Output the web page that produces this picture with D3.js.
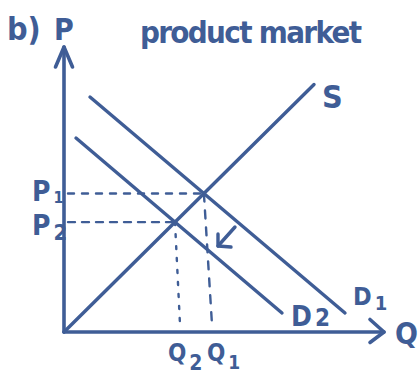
<!DOCTYPE html>
<html>
<head>
<meta charset="utf-8">
<script src="https://cdn.jsdelivr.net/npm/d3@7"></script>
<style>
  html, body { margin: 0; padding: 0; background: #fff; }
  svg { display: block; }
  text { font-family: "DejaVu Sans Condensed", "DejaVu Sans", sans-serif; font-weight: bold; fill: #3f5d96; }
</style>
</head>
<body>
<svg id="chart" width="419" height="377"></svg>
<script>
'use strict';

/**
 * Chart data (quantity / price units)
 */
const supplyCurve = [[0, 0], [10, 9.9]];
const demandCurve1 = [[1.04, 9.4], [11.24, 0.76]];
const demandCurve2 = [[0.48, 7.76], [8.72, 0.76]];
// hand drawn guides hit the Q axis a bit right of the equilibrium
const guideFeet = [5.92, 4.64];
const subscripts = ['1', '2'];
const curveLabels = ['S', 'D', 'D'];

const INK = '#3f5d96';
const svg = d3.select('#chart');

const x = d3.scaleLinear().domain([0, 12.8]).range([64, 384]);
const y = d3.scaleLinear().domain([0, 11.4]).range([332, 47]);

const line = d3.line().x(d => x(d[0])).y(d => y(d[1]));

// where two straight segments meet
function intersect(a, b) {
  const m1 = (a[1][1] - a[0][1]) / (a[1][0] - a[0][0]);
  const m2 = (b[1][1] - b[0][1]) / (b[1][0] - b[0][0]);
  const c1 = a[0][1] - m1 * a[0][0];
  const c2 = b[0][1] - m2 * b[0][0];
  const qx = (c2 - c1) / (m1 - m2);
  return [qx, m1 * qx + c1];
}

const equilibria = [
  intersect(supplyCurve, demandCurve1),
  intersect(supplyCurve, demandCurve2)
];

function stroke(sel, w) {
  return sel.attr('fill', 'none').attr('stroke', INK).attr('stroke-width', w)
    .attr('stroke-linecap', 'round').attr('stroke-linejoin', 'round');
}

// guides to the axes
const priceGuides = svg.append('g');
equilibria.forEach((e, i) => {
  stroke(priceGuides.append('path'), 2.4)
    .attr('d', line([[0.16, e[1]], e]))
    .attr('stroke-dasharray', i === 0 ? '6,8' : '7,7');
  stroke(priceGuides.append('path'), 2.4)
    .attr('d', line([e, [guideFeet[i], 0.3]]))
    .attr('stroke-dasharray', i === 0 ? '8,9' : '3,9');
});

// curves
[supplyCurve, demandCurve1, demandCurve2].forEach(c => {
  stroke(svg.append('path'), 3.4).attr('d', line(c));
});

// axes
const axes = svg.append('g');
stroke(axes.append('path'), 3.6).attr('d', line([[0, 0], [0, 11.4]]));
stroke(axes.append('path'), 3.6).attr('d', line([[0, 0], [12.8, 0]]));
stroke(axes.append('path'), 3.6)
  .attr('d', `M${x(-0.34)},${y(10.6)}L${x(0)},${y(11.4)}L${x(0.34)},${y(10.6)}`);
stroke(axes.append('path'), 3.6)
  .attr('d', `M${x(12.24)},${y(0.5)}L${x(12.8)},${y(0)}L${x(12.24)},${y(-0.42)}`);

// shift arrow (D1 -> D2)
const shift = [[6.84, 4.2], [6.16, 3.44]];
stroke(svg.append('path'), 3.4).attr('d', line(shift));
stroke(svg.append('path'), 3.4)
  .attr('d', line([[6.16, 3.92], shift[1], [6.68, 3.4]]));

// text
function label(tx, ty, txt, size, sub, subDy, subSize) {
  const t = svg.append('text').attr('x', tx).attr('y', ty)
    .attr('font-size', size).text(txt);
  if (sub) {
    t.append('tspan').attr('dx', 3).attr('dy', subDy)
      .attr('font-size', subSize).text(sub);
  }
  return t;
}

label(7, 40, 'b)', 32);
label(54, 40, 'P', 30);
svg.append('text').attr('x', 140).attr('y', 43).attr('font-size', 31)
  .attr('textLength', 222).attr('lengthAdjust', 'spacing')
  .text('product market');

label(322, 108, curveLabels[0], 32);
label(353, 305, curveLabels[1], 25, subscripts[0], 5, 20);
label(291, 326, curveLabels[2], 28, subscripts[1], 0, 24);

label(32, y(equilibria[0][1]) + 8, 'P', 28, subscripts[0], 2, 16);
label(32, y(equilibria[1][1]) + 13, 'P', 28, subscripts[1], 5, 22);
label(168, 361, 'Q', 24, subscripts[1], 9, 21);
label(207, 361, 'Q', 24, subscripts[0], 8, 19);
label(395, 344, 'Q', 30);
</script>
</body>
</html>
